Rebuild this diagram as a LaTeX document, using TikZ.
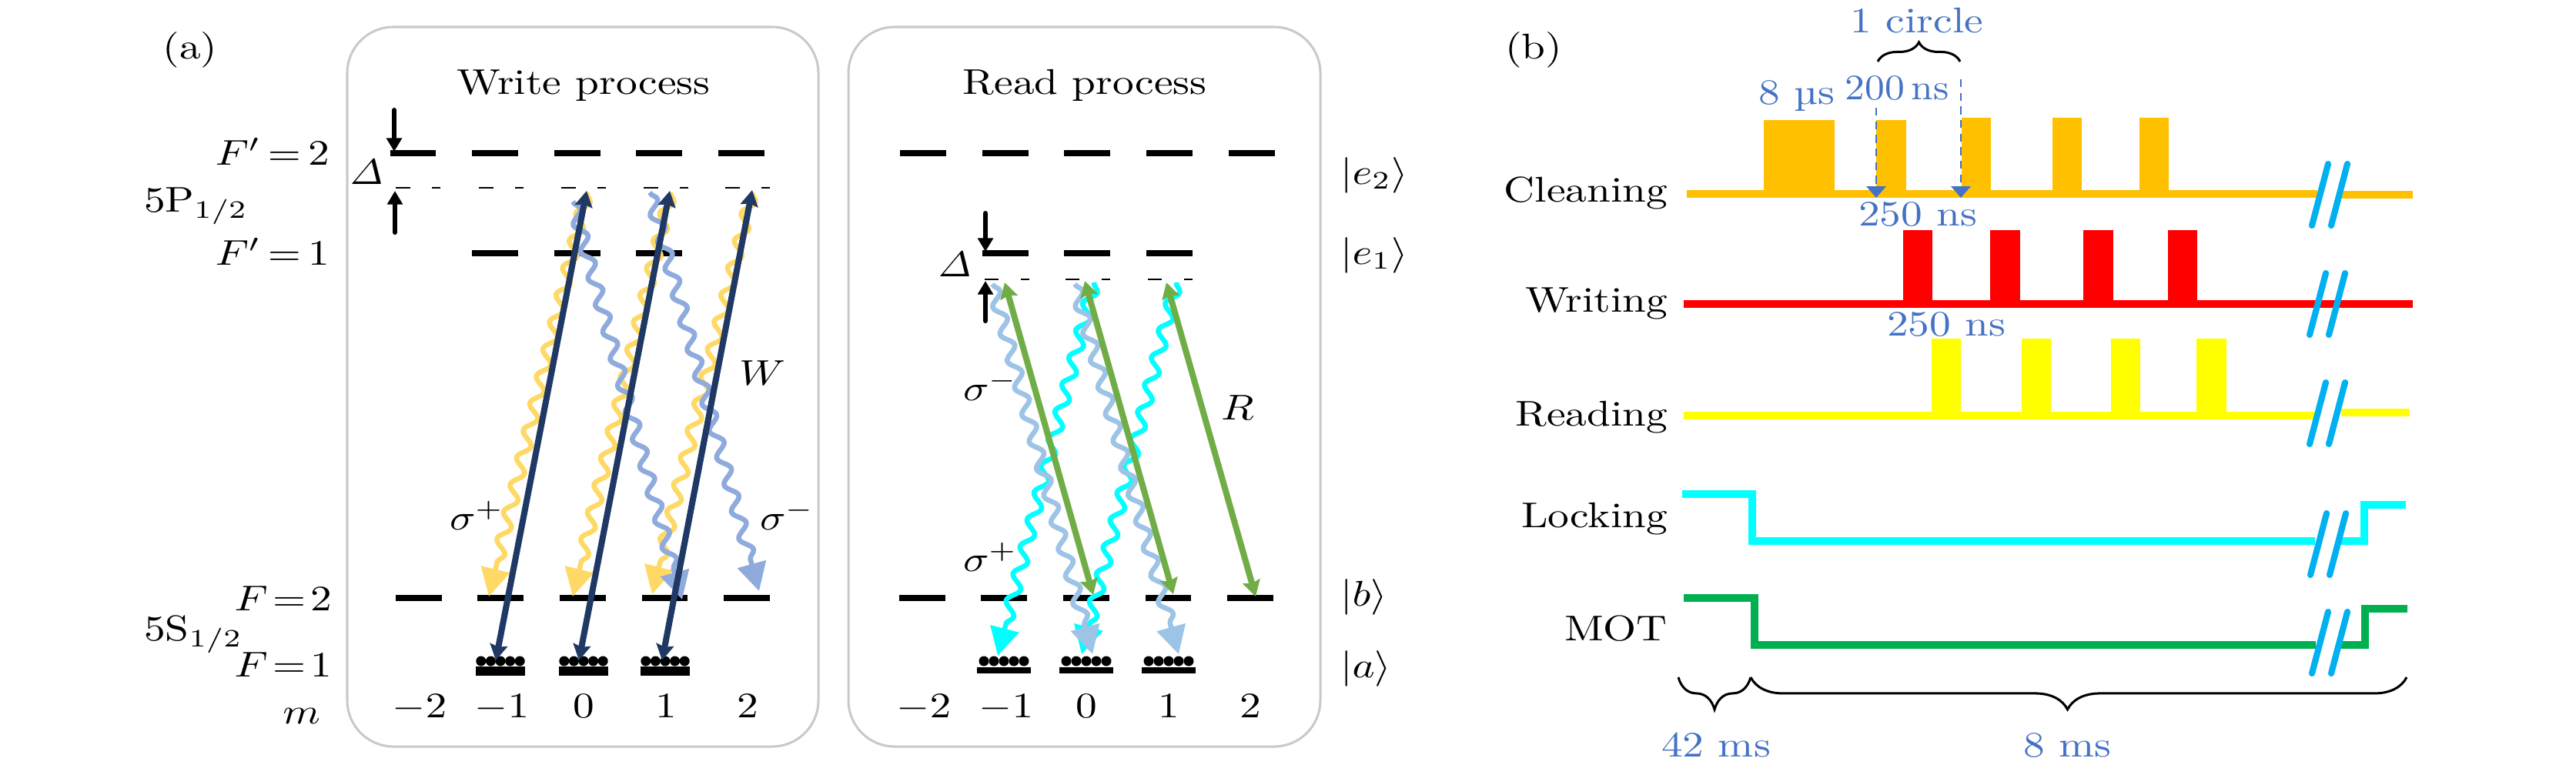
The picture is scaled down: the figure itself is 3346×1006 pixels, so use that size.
\documentclass[tikz,border=0pt]{standalone}
\usepackage{xcolor}
\usepackage{tikz}
\usetikzlibrary{arrows.meta,decorations.pathmorphing,decorations.pathreplacing}
\definecolor{panel}{HTML}{C9C9C9}
\definecolor{navy}{HTML}{1F3864}
\definecolor{wyellow}{HTML}{FFD966}
\definecolor{wblue}{HTML}{8FAADC}
\definecolor{rblue}{HTML}{9DC3E6}
\definecolor{rgreen}{HTML}{70AD47}
\definecolor{note}{HTML}{4472C4}
\definecolor{clean}{HTML}{FFC000}
\definecolor{writesig}{HTML}{FF0000}
\definecolor{readsig}{HTML}{FFFF00}
\definecolor{locksig}{HTML}{00FFFF}
\definecolor{mot}{HTML}{00B050}
\definecolor{gap}{HTML}{00B0F0}
\tikzset{
  lbl/.style={inner sep=0pt,anchor=base},
  lble/.style={inner sep=0pt,anchor=base east},
  lblw/.style={inner sep=0pt,anchor=base west},
  notelbl/.style={lbl,text=note},
  level/.style={line width=1.72pt},
  virt/.style={line width=.6pt},
  box/.style={draw=panel,line width=.65pt,rounded corners=12.9pt},
  detune/.style={line width=1.3pt,line cap=round,-{Triangle[length=3.8pt,width=4.2pt]}},
  wave/.style={line width=1.4pt,-{Triangle[length=7.8pt,width=8pt]},decorate,
    decoration={snake,segment length=7.8pt,amplitude=1.6pt,post length=8pt}},
  pump/.style={line width=1.72pt,{Stealth[length=4.4pt,width=4.9pt,inset=.6pt]}-{Stealth[length=4.4pt,width=4.9pt,inset=.6pt]}},
  signal/.style={line width=2.2pt},
  brk/.style={draw=gap,line width=1.75pt,line cap=round},
  hint/.style={draw=note,line width=.6pt,dash pattern=on 2.2pt off 1.6pt,-{Triangle[length=3.2pt,width=5.4pt,fill=note]}},
  bracket/.style={draw=black,line width=.65pt,decorate}
}
\begin{document}
\begin{tikzpicture}[x=.215pt,y=-.215pt,every node/.style={xscale=1.19}]
  \useasboundingbox (0,0) rectangle (3346,1006);
  \draw[box] (451,35) rectangle (1063,970);
  \draw[box] (1102,35) rectangle (1715,970);
  \node[lbl] (tagA) at (247,76) {(a)};
  \node[lbl] (tagB) at (1992,76) {(b)};
  \node[lbl] (titleW) at (758,122) {Write process};
  \node[lbl] (titleR) at (1409,122) {Read process};
  % write process levels
  \foreach \a/\b in {507/566,613/673,720/780,826/886,933/993}
    \draw[level] (\a,199) -- (\b,199);
  \foreach \a/\b in {613/673,720/780,826/886}
    \draw[level] (\a,329) -- (\b,329);
  \foreach \a/\b in {514/574,620/680,727/787,834/893,940/1000}
    \draw[level] (\a,777) -- (\b,777);
  \foreach \s in {514,622,729,836,942} {
    \draw[virt] (\s,244) -- ({\s+19},244);
    \draw[virt] ({\s+47},244) -- ({\s+58},244);
  }
  \foreach \c in {650,758,864} {
    \draw[line width=2.58pt] ({\c-32},872) -- ({\c+32},872);
    \foreach \k in {-2,...,2}
      \fill ({\c+\k*12.6},859) circle [radius=6.5];
  }
  \node[lble] (fe2) at (429,214) {$F'\mkern-2mu=\mkern-2mu2$};
  \node[lble] (fe1) at (429,344) {$F'\mkern-2mu=\mkern-2mu1$};
  \node[lble] (fg2) at (432,793) {$F\!=\!2$};
  \node[lble] (fg1) at (432,879) {$F\!=\!1$};
  \node[lblw] (p12) at (186,275) {5P$_{1/2}$};
  \node[lblw] (s12) at (186,832) {5S$_{1/2}$};
  \node[lble] (mlab) at (417,940) {$m$};
  \node[lbl] (delW) at (476,239) {$\mathit{\Delta}$};
  \draw[detune] (512,143) -- (512,197);
  \draw[detune] (513,302) -- (513,248);
  \foreach \x/\m [count=\i] in {545/-2,652/-1,758/0,865/1,971/2}
    \node[lbl] (mw\i) at (\x,932) {$\m$};
  % write process transitions
  \coordinate (wt1) at (762,248);
  \coordinate (wt2) at (870,248);
  \coordinate (wt3) at (977,247);
  \coordinate (wb1) at (644,858);
  \coordinate (wb2) at (752,858);
  \coordinate (wb3) at (860,858);
  \draw[wave,draw=wyellow,fill=none] (762,250) -- (635,775);
  \draw[wave,draw=wyellow,fill=none] (871,250) -- (744,775);
  \draw[wave,draw=wyellow,fill=none] (977,250) -- (847,772);
  \draw[wave,draw=wblue,fill=none] (744,262) -- (886,779);
  \draw[wave,draw=wblue,fill=none] (844,250) -- (986,768);
  \draw[pump,navy] (wb1) -- (wt1);
  \draw[pump,navy] (wb2) -- (wt2);
  \draw[pump,navy] (wb3) -- (wt3);
  \node[lblw] (sigPw) at (583,688) {$\sigma^+$};
  \node[lblw] (sigMw) at (986,688) {$\sigma^-$};
  \node[lblw] (pumpW) at (959,500) {$W$};
  % read process levels
  \foreach \a/\b in {1169/1229,1276/1336,1382/1442,1489/1549,1596/1656}
    \draw[level] (\a,199) -- (\b,199);
  \foreach \a/\b in {1276/1336,1382/1442,1489/1549}
    \draw[level] (\a,329) -- (\b,329);
  \foreach \a/\b in {1168/1228,1274/1334,1381/1441,1488/1547,1594/1654}
    \draw[level] (\a,777) -- (\b,777);
  \foreach \s in {1279,1384,1491} {
    \draw[virt] (\s,363) -- ({\s+18},363);
    \draw[virt] ({\s+47},363) -- ({\s+58},363);
  }
  \foreach \c in {1304,1411,1518} {
    \draw[level] ({\c-35},871) -- ({\c+35},871);
    \foreach \k in {-2,...,2}
      \fill ({\c+\k*13},859) circle [radius=6.5];
  }
  \node[lbl] (delR) at (1240,359) {$\mathit{\Delta}$};
  \draw[detune] (1280,277) -- (1280,327);
  \draw[detune] (1280,417) -- (1280,365);
  \foreach \x/\m [count=\i] in {1200/-2,1307/-1,1411/0,1518/1,1624/2}
    \node[lbl] (mr\i) at (\x,932) {$\m$};
  \node[lblw] (ket1) at (1740,239) {$|e_2\rangle$};
  \node[lblw] (ket2) at (1740,343) {$|e_1\rangle$};
  \node[lblw] (ket3) at (1740,787) {$|b\rangle$};
  \node[lblw] (ket4) at (1740,880) {$|a\rangle$};
  % read process transitions
  \coordinate (rt1) at (1305,367);
  \coordinate (rt2) at (1409,365);
  \coordinate (rt3) at (1515,367);
  \coordinate (rb1) at (1420,773);
  \coordinate (rb2) at (1524,772);
  \coordinate (rb3) at (1631,775);
  \draw[wave,draw=locksig,fill=none] (1421,367) -- (1296,852);
  \draw[wave,draw=locksig,fill=none] (1528,367) -- (1405,850);
  \draw[wave,draw=rblue,fill=none] (1289,369) -- (1419,850);
  \draw[wave,draw=rblue,fill=none] (1396,369) -- (1531,850);
  \draw[pump,rgreen] (rt1) -- (rb1);
  \draw[pump,rgreen] (rt2) -- (rb2);
  \draw[pump,rgreen] (rt3) -- (rb3);
  \node[lblw] (sigMr) at (1250,520) {$\sigma^-$};
  \node[lblw] (sigPr) at (1250,742) {$\sigma^+$};
  \node[lblw] (pumpR) at (1585,545) {$R$};
  % timing lines
  \foreach \y/\t [count=\i] in {262/Cleaning,405/Writing,553/Reading,685/Locking,832/MOT}
    \node[lble] (sig\i) at (2167,\y) {\t};
  \draw[signal,clean] (2191,252) -- (3010,252);
  \draw[signal,clean] (3041,253) -- (3134,253);
  \foreach \a/\b/\h in {2291/2383/156,2437/2476/156,2548/2586/153,2666/2704/153,2779/2817/153}
    \fill[clean] (\a,\h) rectangle (\b,252);
  \draw[signal,writesig] (2187,395) -- (3134,395);
  \foreach \a/\b in {2472/2510,2585/2624,2706/2745,2816/2854}
    \fill[writesig] (\a,299) rectangle (\b,395);
  \draw[signal,readsig] (2187,540) -- (3007,540);
  \draw[signal,readsig] (3041,536) -- (3130,536);
  \foreach \a/\b in {2509/2547,2626/2664,2742/2780,2853/2892}
    \fill[readsig] (\a,440) rectangle (\b,540);
  \draw[signal,locksig] (2185,642) -- (2276,642) -- (2276,703) -- (3007,703);
  \draw[signal,locksig] (3039,703) -- (3071,703) -- (3071,656) -- (3125,656);
  \draw[signal,mot] (2187,777) -- (2279,777) -- (2279,838) -- (3008,838);
  \draw[signal,mot] (3041,838) -- (3072,838) -- (3072,791) -- (3127,791);
  \foreach \x/\y in {3024/213,3021/355,3021/497,3022/667,3024/795} {
    \draw[brk] (\x,\y) -- ({\x-21},{\y+80});
    \draw[brk] ({\x+25},\y) -- ({\x+4},{\y+80});
  }
  % timing notes
  \draw[hint] (2437,140) -- (2437,257);
  \draw[hint] (2547,103) -- (2547,257);
  \node[notelbl] (noteA) at (2334,135) {8 µs};
  \node[notelbl,xscale=.93] (noteB) at (2464,129) {200\,ns};
  \node[notelbl] (noteC) at (2490,42) {1 circle};
  \node[notelbl] (noteD) at (2491,293) {250 ns};
  \node[notelbl] (noteE) at (2528,436) {250 ns};
  \node[notelbl] (noteF) at (2229,983) {42 ms};
  \node[notelbl] (noteG) at (2685,983) {8 ms};
  \draw[bracket,decoration={brace,amplitude=5.4pt}] (2439,80) -- (2546,80);
  \draw[bracket,decoration={brace,amplitude=9pt}] (2274,880) -- (2180,880);
  \draw[bracket,decoration={brace,amplitude=9pt,aspect=.517}] (3126,880) -- (2274,880);
\end{tikzpicture}
\end{document}
